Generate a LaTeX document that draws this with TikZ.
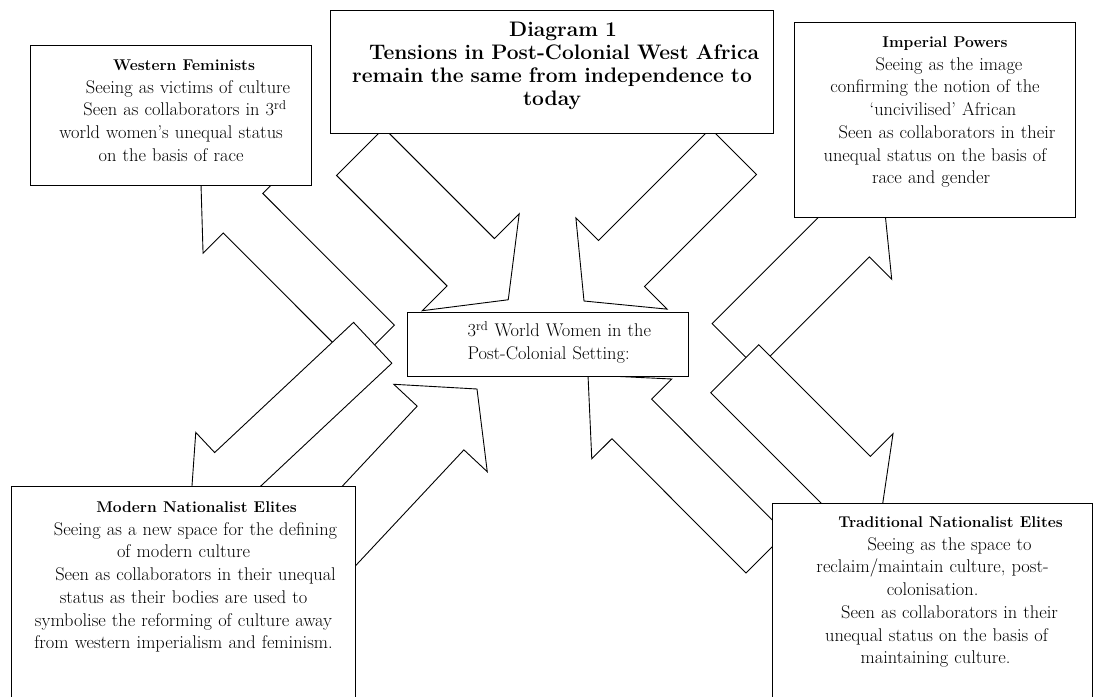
\documentclass[tikz,border=0pt]{standalone}
\usepackage{tikz}
\usetikzlibrary{calc, positioning}

\tikzset{
  card/.style = {draw, fill=white, line width=1.1pt, anchor=north west, align=center,
                 inner xsep=0pt, inner ysep=0pt, font=\fontsize{18.4}{22.7}\selectfont},
  arrowbody/.style = {draw, fill=white, line width=0.9pt, line join=miter}
}
\newcommand{\boxhead}[1]{{\fontsize{15.6}{22.7}\selectfont\bfseries #1}}

% block arrow: tail, tip, half shaft width, half head width, head length
\newcommand{\blockarrow}[5]{%
  \coordinate (base) at ($(#2)!#5!(#1)$);
  \draw[arrowbody] ($(#1)!#3!90:(#2)$) -- ($(base)!#3!90:(#2)$) -- ($(base)!#4!90:(#2)$) -- (#2)
    -- ($(base)!#4!-90:(#2)$) -- ($(base)!#3!-90:(#2)$) -- ($(#1)!#3!-90:(#2)$) -- cycle;
}

\begin{document}
\begin{tikzpicture}[x=1pt, y=-1pt]
		\clip (0,0) rectangle (1097,696);
		
		%----------------------------------------------------------------
		% ends of the block arrows
		\coordinate (titleOutL) at (360.25,151.75);
		\coordinate (centreInTL) at (508.25,299.75);
		\coordinate (titleOutR) at (733.5,151.5);
		\coordinate (centreInTR) at (584,301);
		\coordinate (centreOutWF) at (374.6,344.9);
		\coordinate (feministsIn) at (200.6,170.8);
		\coordinate (centreOutMN) at (372.7,342.8);
		\coordinate (modernIn) at (190,514);
		\coordinate (modernOut) at (304,574);
		\coordinate (centreInBL) at (477,389);
		\coordinate (centreOutIP) at (734.75,346.25);
		\coordinate (imperialIn) at (883.5,197.5);
		\coordinate (centreOutTN) at (734.75,368.75);
		\coordinate (traditionalIn) at (881,515);
		\coordinate (traditionalOut) at (765.75,553.25);
		\coordinate (centreInBR) at (588,375);
		
		\blockarrow{titleOutL}{centreInTL}{33.5pt}{68.5pt}{53pt}
		\blockarrow{titleOutR}{centreInTR}{32.5pt}{64.5pt}{53pt}
		\blockarrow{centreOutWF}{feministsIn}{28pt}{56.5pt}{60pt}
		\blockarrow{centreOutMN}{modernIn}{28pt}{55.6pt}{60pt}
		\blockarrow{modernOut}{centreInBL}{32pt}{64pt}{53.4pt}
		\blockarrow{centreOutIP}{imperialIn}{32pt}{63.6pt}{52pt}
		\blockarrow{centreOutTN}{traditionalIn}{34pt}{66pt}{49pt}
		\blockarrow{traditionalOut}{centreInBR}{28pt}{56.5pt}{62pt}
		
		%----------------------------------------------------------------
		\node(title) [card, text width=443pt, text height=26pt, text depth=97pt,
			font=\fontsize{21}{23}\selectfont\bfseries] at (330,10) {
			\hspace*{22pt}Diagram 1\\
			\hspace*{24pt}Tensions in Post-Colonial West Africa\\
			remain the same from independence to\\
			today
		} ;
		
		\node(feminists) [card, text width=281pt, text height=25pt, text depth=115pt] at (30,45) {
			\hspace*{26pt}\boxhead{Western Feminists}\\
			\hspace*{34pt}Seeing as victims of culture\\
			\hspace*{28pt}Seen as collaborators in 3\textsuperscript{rd}\\
			world women's unequal status\\
			on the basis of race
		} ;
		
		\node(imperial) [card, text width=281pt, text height=25pt, text depth=170pt] at (794,22) {
			\hspace*{20pt}\boxhead{Imperial Powers}\\
			\hspace*{28pt}Seeing as the image\\
			confirming the notion of the\\
			\hspace*{16pt}`uncivilised' African\\
			\hspace*{24pt}Seen as collaborators in their\\
			unequal status on the basis of\\
			race and gender\hspace*{8pt}
		} ;
		
		%----------------------------------------------------------------
		\node(centre) [card, align=left, text width=281pt, text height=24pt, text depth=40pt] at (407,312) {
			\hspace*{60pt}3\textsuperscript{rd} World Women in the\\
			\hspace*{60pt}Post-Colonial Setting:
		} ;
		
		%----------------------------------------------------------------
		\node(modern) [card, text width=344pt, text height=26pt, text depth=200pt] at (11,486) {
			\hspace*{26pt}\boxhead{Modern Nationalist Elites}\\
			\hspace*{24pt}Seeing as a new space for the defining\\
			of modern culture\\
			\hspace*{24pt}Seen as collaborators in their unequal\\
			status as their bodies are used to\\
			symbolise the reforming of culture away\\
			from western imperialism and feminism.
		} ;
		
		\node(traditional) [card, text width=320pt, text height=24pt, text depth=200pt] at (772,503) {
			\hspace*{36pt}\boxhead{Traditional Nationalist Elites}\\
			\hspace*{34pt}Seeing as the space to\\
			reclaim/maintain culture, post-\\
			colonisation.\hspace*{26pt}\\
			\hspace*{34pt}Seen as collaborators in their\\
			\hspace*{8pt}unequal status on the basis of\\
			\hspace*{6pt}maintaining culture.
		} ;
		
	\end{tikzpicture}
\end{document}
